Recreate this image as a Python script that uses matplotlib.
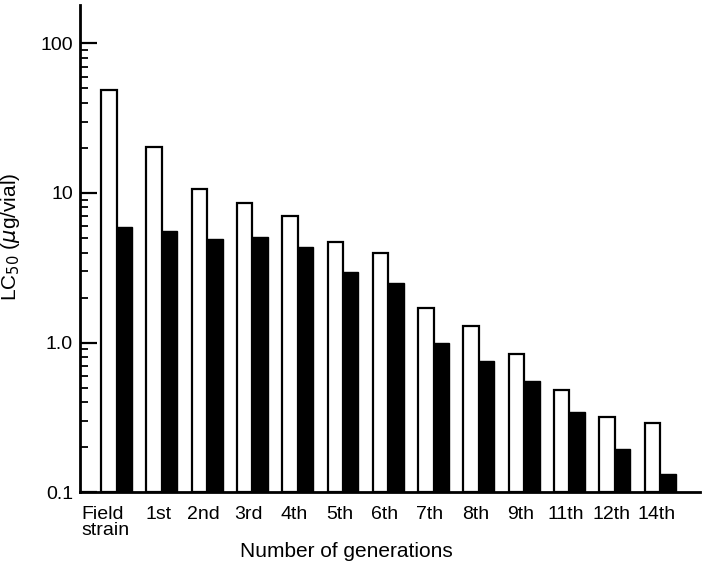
import numpy as np
import matplotlib
matplotlib.use("Agg")
import matplotlib.pyplot as plt
from matplotlib.ticker import LogLocator, FixedLocator, NullFormatter

plt.rcParams['font.family'] = ['Liberation Sans', 'DejaVu Sans']

generations = ['Field\nstrain', '1st', '2nd', '3rd', '4th', '5th', '6th',
               '7th', '8th', '9th', '11th', '12th', '14th']
lc50_white = [49.0, 20.2, 10.6, 8.6, 7.0, 4.7, 4.0, 1.7, 1.29, 0.84, 0.485, 0.316, 0.29]
lc50_black = [5.9, 5.6, 4.9, 5.1, 4.35, 2.97, 2.5, 1.0, 0.755, 0.556, 0.346, 0.193, 0.133]
ytick_vals = [0.1, 1.0, 10, 100]
ytick_labels = ['0.1', '1.0', '10', '100']
base = 0.1

fig = plt.figure(figsize=(7.02, 5.73), dpi=100)
ax = fig.add_axes([0.114, 0.141, 0.883, 0.850])

x = np.arange(len(generations))
w = 0.342
ax.bar(x - w / 2, np.array(lc50_white) - base, width=w, bottom=base, color='white',
       edgecolor='black', linewidth=1.6)
ax.bar(x + w / 2, np.array(lc50_black) - base, width=w, bottom=base, color='black',
       edgecolor='black', linewidth=1.0)

ax.set_yscale('log')
ax.set_ylim(0.1, 180)
ax.set_xlim(-0.806, 12.88)

ax.yaxis.set_major_locator(FixedLocator(ytick_vals))
ax.set_yticklabels(ytick_labels)
ax.yaxis.set_minor_locator(LogLocator(base=10, subs=np.arange(2, 10)))
ax.yaxis.set_minor_formatter(NullFormatter())
ax.tick_params(axis='y', which='major', direction='in', length=12, width=1.6,
               labelsize=14, pad=5)
ax.tick_params(axis='y', which='minor', direction='in', length=6, width=1.3)

# first label ("Field strain") sits left-aligned at the axis, the rest near centre
xt = x.astype(float) - 0.08
xt[0] = -0.78
ax.set_xticks(xt)
labels = ax.set_xticklabels(generations, fontsize=14, linespacing=0.95)
labels[0].set_horizontalalignment('left')
labels[0].set_multialignment('left')
ax.tick_params(axis='x', length=0, pad=10)

for side in ['top', 'right']:
    ax.spines[side].set_visible(False)
ax.spines['left'].set_linewidth(2)
ax.spines['bottom'].set_linewidth(2)

ax.set_xlabel('Number of generations', fontsize=15)
ax.xaxis.set_label_coords(0.43, -0.103)
ax.set_ylabel(r'LC$_{50}$ ($\mu$g/vial)', fontsize=15)
ax.yaxis.set_label_coords(-0.094, 0.524)

fig.savefig('out.png', dpi=100)
